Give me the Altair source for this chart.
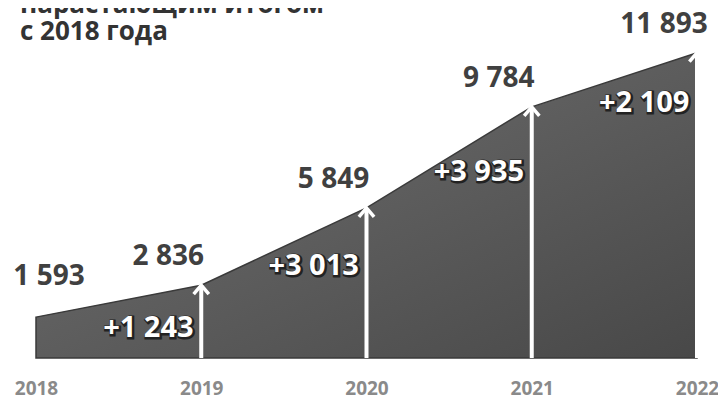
import altair as alt
import pandas as pd

years = [2018, 2019, 2020, 2021, 2022]
totals = [1593, 2836, 5849, 9784, 11893]
total_labels = ["1 593", "2 836", "5 849", "9 784", "11 893"]
increments = [0, 1243, 3013, 3935, 2109]
inc_labels = ["", "+1 243", "+3 013", "+3 935", "+2 109"]
title_lines = ["нарастающим итогом", "с 2018 года"]

df = pd.DataFrame({
    "year": years,
    "total": totals,
    "total_label": total_labels,
    "inc": increments,
    "inc_label": inc_labels,
})

FONT = "Open Sans"
base = alt.Chart(df)

xs = alt.X(
    "year:Q",
    scale=alt.Scale(domain=[2018, 2022], nice=False, zero=False),
    axis=alt.Axis(values=years, format="d", title=None, domain=False, ticks=False,
                  grid=False, labelFontSize=19, labelFont=FONT, labelFontWeight="bold",
                  labelColor="#8a8a8a", labelPadding=21, labelFlush=False),
)
ys = alt.Y("total:Q", scale=alt.Scale(domain=[0, 12000], nice=False, zero=True), axis=None)

gradient = alt.Gradient(
    gradient="linear",
    stops=[alt.GradientStop(color="#727272", offset=0),
           alt.GradientStop(color="#484848", offset=1)],
    x1=0, y1=0, x2=1, y2=1,
)

area = base.mark_area(color=gradient, stroke="#3a3a3a", strokeWidth=1.5).encode(x=xs, y=ys)

later = base.transform_filter("datum.year > 2018")

rules = later.mark_rule(color="white", strokeWidth=4).encode(
    x="year:Q", y="total:Q", y2=alt.datum(0)
)
heads = later.mark_point(
    shape="M-0.85,1L0,0L0.85,1", filled=False, color="white", strokeWidth=3.5,
    size=320, opacity=1, strokeJoin="miter"
).encode(x="year:Q", y="total:Q")

lab_first = base.transform_filter("datum.year == 2018").mark_text(
    font=FONT, fontSize=28, fontWeight="bold", color="#404040", dx=13, dy=-40, baseline="middle"
).encode(x="year:Q", y="total:Q", text="total_label:N")
lab_rest = later.mark_text(
    font=FONT, fontSize=28, fontWeight="bold", color="#404040", dx=-33, dy=-28, baseline="middle"
).encode(x="year:Q", y="total:Q", text="total_label:N")

inc = later.transform_calculate(ix="datum.year - 0.32", iy="datum.total - 0.32 * datum.inc")
inc_shadow = inc.mark_text(
    font=FONT, fontSize=29, fontWeight="bold", color="#222222", stroke="#222222",
    strokeWidth=3, dy=34, dx=1, baseline="middle"
).encode(x="ix:Q", y="iy:Q", text="inc_label:N")
inc_text = inc.mark_text(
    font=FONT, fontSize=29, fontWeight="bold", color="white", dy=33, baseline="middle"
).encode(x="ix:Q", y="iy:Q", text="inc_label:N")

chart = alt.layer(area, rules, heads, lab_first, lab_rest, inc_shadow, inc_text).properties(
    width=661, height=308,
    title=alt.TitleParams(text=title_lines, anchor="start", frame="group", fontSize=26,
                          font=FONT, fontWeight="bold", color="#333333", lineHeight=27,
                          dx=-16, offset=-34),
    padding={"left": 28, "top": 42, "right": 21, "bottom": 42},
    autosize=alt.AutoSizeParams(type="none"),
).configure_view(stroke=None)

chart.save("out.html", embed_options={"renderer": "svg", "actions": False})
